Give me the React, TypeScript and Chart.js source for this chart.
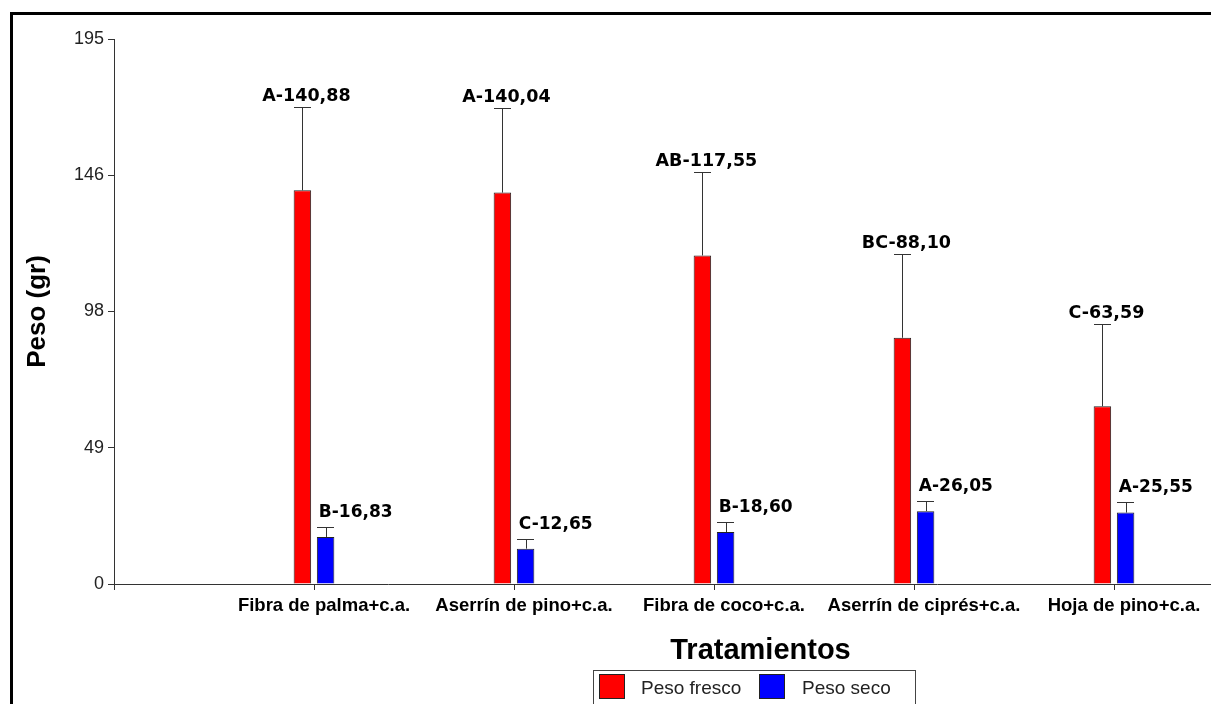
import React, { useEffect, useRef } from "react";
import { Chart, registerables } from "chart.js";

Chart.register(...registerables);

const categories = [
  "Fibra de palma+c.a.",
  "Aserrín de pino+c.a.",
  "Fibra de coco+c.a.",
  "Aserrín de ciprés+c.a.",
  "Hoja de pino+c.a.",
];
const categoryPositions = [1, 2, 3, 4, 5];
const pesoFresco = [140.88, 140.04, 117.55, 88.1, 63.59];
const pesoSeco = [16.83, 12.65, 18.6, 26.05, 25.55];
const errFresco = [29.8, 30.1, 29.7, 29.8, 29.5];
const errSeco = [3.4, 3.6, 3.6, 3.8, 3.8];
const letrasFresco = ["A", "A", "AB", "BC", "C"];
const letrasSeco = ["B", "C", "B", "A", "A"];
const yTickLabels = ["0", "49", "98", "146", "195"];
const seriesNames = ["Peso fresco", "Peso seco"];
const seriesColors = ["#FF0000", "#0000FF"];
const xTitle = "Tratamientos";
const yTitle = "Peso (gr)";

const fmt = (v: number) => v.toFixed(2).replace(".", ",");

const overlayPlugin = {
  id: "overlay",
  afterDatasetsDraw(chart: any) {
    const ctx = chart.ctx;
    const yScale = chart.scales.y;
    const values = [pesoFresco, pesoSeco];
    const errs = [errFresco, errSeco];
    const letters = [letrasFresco, letrasSeco];
    ctx.save();
    chart.data.datasets.forEach((_ds: any, di: number) => {
      const meta = chart.getDatasetMeta(di);
      meta.data.forEach((bar: any, j: number) => {
        const p = bar.getProps(["x", "y", "width"], true);
        const top = Math.round(yScale.getPixelForValue(values[di][j] + errs[di][j])) + 0.5;
        const cx = Math.round(p.x) + 0.5;
        ctx.strokeStyle = "#333";
        ctx.lineWidth = 1;
        ctx.beginPath();
        ctx.moveTo(cx, p.y);
        ctx.lineTo(cx, top);
        ctx.moveTo(Math.round(p.x - p.width / 2), top);
        ctx.lineTo(Math.round(p.x + p.width / 2), top);
        ctx.stroke();

        const text = `${letters[di][j]}-${fmt(values[di][j])}`;
        ctx.fillStyle = "#000";
        ctx.textBaseline = "alphabetic";
        if (di === 0) {
          ctx.font = 'bold 17.5px "DejaVu Sans"';
          ctx.textAlign = "center";
          ctx.fillText(text, p.x + 4, top - 6.5);
        } else {
          ctx.font = 'bold 17px "DejaVu Sans"';
          ctx.textAlign = "left";
          ctx.fillText(text, p.x - p.width / 2 + 2, top - 11);
        }
      });
    });
    ctx.restore();
  },
  afterDraw(chart: any) {
    const ctx = chart.ctx;
    ctx.save();
    ctx.fillStyle = "#000";
    ctx.font = 'bold 29px "Liberation Sans"';
    ctx.textAlign = "center";
    ctx.textBaseline = "alphabetic";
    ctx.fillText(xTitle, 747.5, 643.5);

    ctx.strokeStyle = "#444";
    ctx.lineWidth = 1;
    ctx.strokeRect(580.5, 655.5, 322, 60);
    const swatchX = [586, 746];
    const textX = [628, 789];
    chart.data.datasets.forEach((ds: any, i: number) => {
      ctx.fillStyle = ds.backgroundColor;
      ctx.fillRect(swatchX[i], 659, 26, 25);
      ctx.strokeStyle = "#222";
      ctx.strokeRect(swatchX[i] + 0.5, 659.5, 25, 24);
      ctx.fillStyle = "#222";
      ctx.font = '19px "Liberation Sans"';
      ctx.textAlign = "left";
      ctx.fillText(ds.label, textX[i], 678.5);
    });
    ctx.restore();
  },
};

export default function App() {
  const ref = useRef<HTMLCanvasElement | null>(null);

  useEffect(() => {
    if (!ref.current) return;
    const chart = new Chart(ref.current, {
      type: "bar",
      data: {
        datasets: [
          {
            label: seriesNames[0],
            data: categoryPositions.map((x, i) => ({ x, y: pesoFresco[i] })),
            backgroundColor: seriesColors[0],
            borderColor: "#222",
            borderWidth: 1,
          },
          {
            label: seriesNames[1],
            data: categoryPositions.map((x, i) => ({ x, y: pesoSeco[i] })),
            backgroundColor: seriesColors[1],
            borderColor: "#222",
            borderWidth: 1,
          },
        ],
      },
      options: {
        animation: false,
        responsive: false,
        maintainAspectRatio: false,
        categoryPercentage: 0.232,
        barPercentage: 0.754,
        layout: { padding: { left: 0, top: 24, right: 0, bottom: 0 } },
        plugins: {
          legend: { display: false },
          tooltip: { enabled: false },
          title: { display: false },
        },
        scales: {
          x: {
            type: "linear",
            min: 0,
            max: 5.485,
            offset: false,
            grid: {
              offset: false,
              drawOnChartArea: false,
              drawTicks: true,
              tickLength: 6,
              color: "#333",
            },
            border: { display: true, color: "#333", width: 1 },
            ticks: {
              stepSize: 1,
              includeBounds: false,
              autoSkip: false,
              maxRotation: 0,
              minRotation: 0,
              padding: 5,
              labelOffset: 10,
              color: "#000",
              font: { family: "Liberation Sans", size: 18.5, weight: "bold" },
              callback: (_v: any, i: number) => (i === 0 ? "" : categories[i - 1] ?? ""),
            },
            afterFit: (scale: any) => {
              scale.height = 120;
            },
          },
          y: {
            type: "linear",
            min: 0,
            max: 195,
            grid: {
              drawOnChartArea: false,
              drawTicks: true,
              tickLength: 6,
              color: "#333",
            },
            border: { display: true, color: "#333", width: 1 },
            ticks: {
              stepSize: 48.75,
              padding: 4,
              color: "#222",
              font: { family: "Liberation Sans", size: 18 },
              callback: (_v: any, i: number) => yTickLabels[i],
            },
            title: {
              display: true,
              text: yTitle,
              color: "#000",
              font: { family: "Liberation Sans", size: 26, weight: "bold" },
              padding: { top: 9, bottom: 0 },
            },
            afterFit: (scale: any) => {
              scale.width = 101;
            },
          },
        },
      } as any,
      plugins: [overlayPlugin],
    });
    return () => chart.destroy();
  }, []);

  return (
    <div
      style={{
        position: "fixed",
        left: 10,
        top: 12,
        right: 0,
        bottom: 0,
        borderLeft: "3px solid #000",
        borderTop: "3px solid #000",
        background: "#fff",
        overflow: "hidden",
      }}
    >
      <canvas ref={ref} width={1198} height={689} style={{ display: "block" }} />
    </div>
  );
}
